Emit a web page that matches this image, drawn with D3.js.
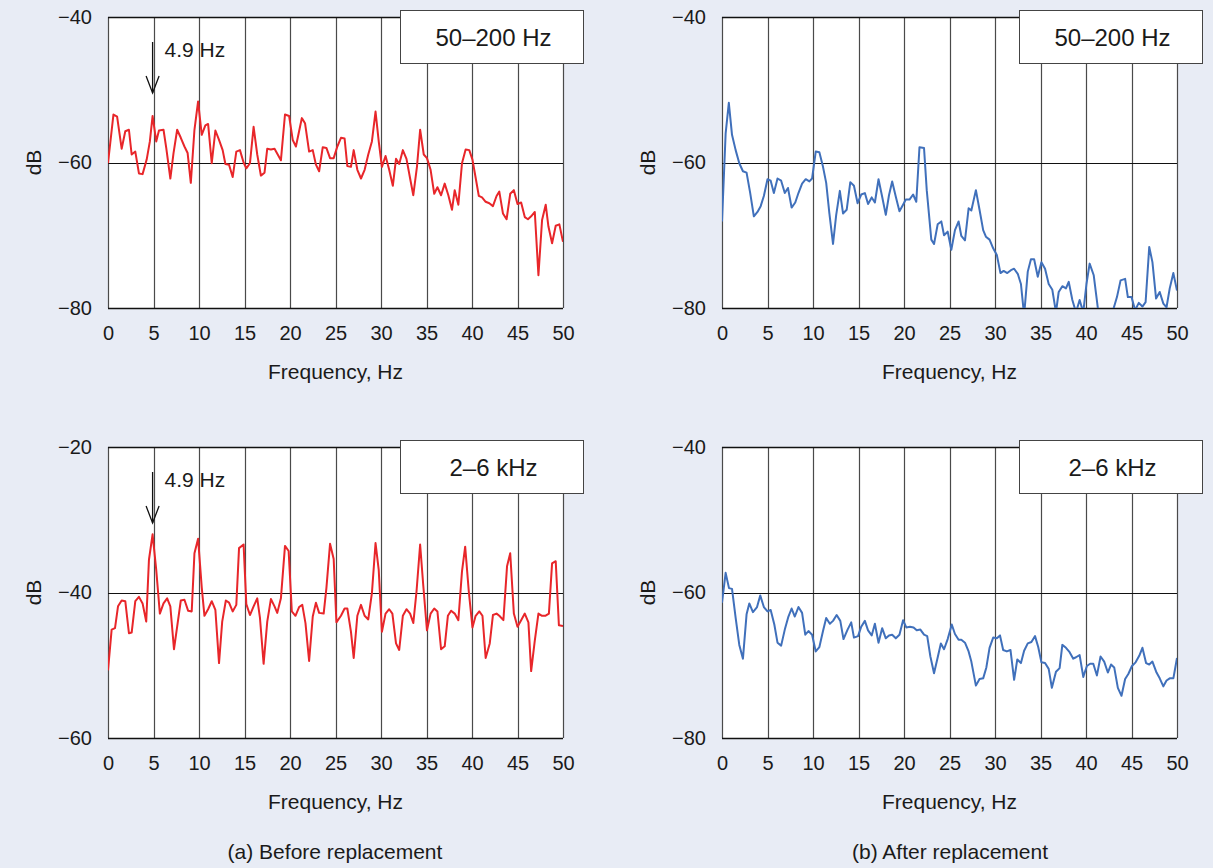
<!DOCTYPE html>
<html><head><meta charset="utf-8">
<script src="https://cdn.jsdelivr.net/npm/d3@7"></script>
<style>
body{margin:0;background:#e8ecf5;}
svg{display:block;font-family:"Liberation Sans",Arial,Helvetica,sans-serif;}
</style></head><body><svg id="c" width="1213" height="868"></svg>
<script>
// ---------- data ----------
const xTicks = [0,5,10,15,20,25,30,35,40,45,50];
const yTicksTopBefore = [-40,-60,-80];
const yTicksTopAfter = [-40,-60,-80];
const yTicksBotBefore = [-20,-40,-60];
const yTicksBotAfter = [-40,-60,-80];
const bandLabels = ["50–200 Hz","2–6 kHz"];
const captions = ["(a) Before replacement","(b) After replacement"];
const peakLabel = "4.9 Hz";
const peakFreq = 4.9;
const xTitle = "Frequency, Hz";
const yTitle = "dB";

const freqTopBefore = [0,0.6,1.0,1.5,1.9,2.3,2.6,3.0,3.4,3.8,
4.25,4.6,4.9,5.3,5.6,6.1,6.4,6.85,7.2,7.6,
8.0,8.4,8.75,9.1,9.5,9.9,10.3,10.7,11.0,11.4,
11.8,12.2,12.6,12.9,13.3,13.7,14.1,14.5,14.9,15.2,
15.6,16.0,16.4,16.8,17.2,17.5,17.9,18.3,18.65,19.0,
19.45,19.9,20.3,20.65,21.0,21.3,21.65,22.1,22.5,22.85,
23.2,23.6,24.0,24.4,24.8,25.2,25.6,26.0,26.3,26.7,
27.0,27.4,27.8,28.2,28.6,29.0,29.4,29.75,30.1,30.5,
30.9,31.3,31.65,32.0,32.4,32.8,33.2,33.55,33.95,34.3,
34.7,35.05,35.45,35.85,36.2,36.6,37.0,37.4,37.8,38.1,
38.5,38.9,39.3,39.7,40.05,40.4,40.75,41.1,41.5,41.9,
42.3,42.7,43.0,43.4,43.8,44.2,44.6,45.0,45.4,45.8,
46.15,46.5,46.9,47.3,47.7,48.1,48.4,48.8,49.2,49.6,
50.0];
const dbTopBefore = [-60.1,-53.4,-53.7,-58.1,-55.7,-55.5,-58.9,-58.5,-61.5,-61.6,
-59.6,-57.1,-53.6,-57.1,-55.6,-55.5,-58.0,-62.2,-58.7,-55.5,
-56.6,-57.8,-58.7,-62.8,-55.5,-51.6,-56.2,-54.9,-54.7,-60.1,
-55.6,-56.9,-58.3,-60.2,-60.3,-62.0,-58.5,-58.3,-60.0,-60.8,
-60.1,-55.1,-58.9,-61.8,-61.4,-58.1,-58.2,-58.1,-58.9,-59.7,
-53.4,-53.6,-56.9,-57.8,-55.7,-53.9,-54.6,-58.5,-58.3,-60.3,
-61.2,-57.9,-58.0,-59.4,-59.4,-57.8,-56.6,-56.7,-60.5,-60.6,
-58.3,-61.0,-62.2,-61.0,-58.9,-57.1,-53.0,-57.1,-60.6,-59.1,
-61.0,-63.2,-59.5,-60.2,-58.3,-59.5,-62.2,-64.5,-60.6,-55.5,
-58.9,-59.4,-61.0,-64.3,-63.4,-64.5,-62.9,-64.5,-66.5,-63.8,
-65.8,-60.1,-58.2,-58.3,-59.6,-62.1,-64.6,-64.8,-65.4,-65.6,
-66.0,-64.6,-64.0,-67.0,-67.8,-64.3,-63.8,-65.7,-65.5,-67.5,
-67.8,-67.4,-66.8,-75.5,-67.9,-65.8,-68.8,-71.1,-68.7,-68.5,
-70.9];

const freqTopAfter = [0.0,0.4,0.75,1.1,1.5,1.9,2.3,2.7,3.1,3.5,
3.9,4.25,4.6,5.0,5.35,5.7,6.1,6.5,6.9,7.25,
7.65,8.05,8.4,8.8,9.2,9.6,9.9,10.3,10.7,11.1,
11.45,11.8,12.2,12.55,12.95,13.3,13.7,14.1,14.5,14.9,
15.3,15.7,16.05,16.45,16.8,17.2,17.6,18.0,18.35,18.7,
19.1,19.5,19.85,20.2,20.6,21.0,21.35,21.7,22.2,22.5,
23.0,23.3,23.7,24.1,24.4,24.8,25.2,25.6,26.0,26.3,
26.7,27.1,27.4,27.9,28.3,28.7,29.0,29.4,29.8,30.2,
30.6,30.95,31.35,31.75,32.1,32.5,32.85,33.2,33.6,33.95,
34.3,34.7,35.1,35.5,35.9,36.3,36.7,37.0,37.4,37.8,
38.1,38.5,38.9,39.3,39.7,40.05,40.4,40.85,41.35,41.8,
42.2,42.6,43.0,43.4,43.8,44.3,44.6,45.0,45.4,45.8,
46.2,46.55,46.95,47.3,47.7,48.1,48.5,48.85,49.2,49.6,
50.0];
const dbTopAfter = [-68.1,-56.0,-51.8,-56.2,-58.3,-60.1,-61.2,-61.4,-64.2,-67.4,
-66.8,-66.0,-64.6,-62.3,-62.5,-64.2,-62.2,-62.5,-64.2,-63.5,
-66.2,-65.5,-64.2,-62.9,-62.3,-62.6,-62.2,-58.5,-58.6,-60.6,
-62.8,-67.0,-71.2,-67.2,-63.9,-67.0,-66.5,-62.7,-63.2,-65.6,
-64.4,-64.2,-65.7,-64.8,-65.5,-62.3,-64.7,-67.2,-64.5,-62.6,
-64.7,-66.7,-65.9,-65.1,-65.1,-64.4,-65.4,-57.9,-58.0,-63.8,
-70.6,-71.2,-68.5,-68.1,-70.0,-69.5,-72.0,-69.3,-68.1,-70.1,
-70.7,-66.3,-66.6,-63.8,-66.5,-69.3,-70.2,-70.6,-71.8,-72.7,
-75.2,-74.9,-75.2,-74.8,-74.6,-75.3,-76.7,-81.0,-75.0,-73.3,
-73.3,-75.7,-73.7,-74.6,-76.7,-77.5,-80.6,-77.8,-77.0,-77.3,
-76.4,-78.9,-80.6,-78.9,-80.6,-76.7,-73.9,-75.5,-80.5,-82.5,
-82.5,-81.5,-80.2,-78.5,-76.2,-76.0,-78.5,-78.5,-80.3,-79.3,
-79.8,-79.2,-71.6,-73.7,-78.7,-77.8,-79.4,-79.9,-77.3,-75.2,
-77.6];

const freqBotBefore = [0,0.4,0.77,1.1,1.5,1.9,2.3,2.6,3.0,3.4,
3.8,4.2,4.5,4.9,5.3,5.7,6.1,6.5,6.85,7.25,
7.6,8.0,8.4,8.8,9.2,9.5,9.9,10.3,10.6,11.0,
11.4,11.8,12.2,12.55,12.95,13.3,13.7,14.1,14.4,14.9,
15.2,15.6,16.0,16.4,16.7,17.1,17.5,17.9,18.3,18.6,
19.0,19.45,19.85,20.2,20.6,21.0,21.35,21.7,22.1,22.5,
22.85,23.2,23.7,24.0,24.4,24.8,25.1,25.6,26.0,26.3,
26.7,27.0,27.4,27.8,28.2,28.6,29.0,29.4,29.75,30.1,
30.5,30.9,31.25,31.65,32.0,32.4,32.8,33.2,33.55,33.9,
34.3,34.65,35.05,35.45,35.85,36.2,36.6,37.0,37.35,37.7,
38.1,38.5,38.9,39.25,39.65,40.05,40.4,40.8,41.15,41.5,
41.95,42.3,42.7,43.0,43.45,43.85,44.2,44.6,45.0,45.4,
45.8,46.2,46.5,46.9,47.3,47.7,48.05,48.45,48.8,49.2,
49.55,50.0];
const dbBotBefore = [-50.7,-45.1,-44.9,-41.9,-41.1,-41.2,-45.6,-45.5,-41.2,-40.6,
-41.5,-44.0,-35.5,-32.0,-36.9,-42.9,-41.5,-40.8,-41.9,-47.8,
-44.7,-41.1,-41.0,-42.5,-42.6,-34.6,-32.6,-39.3,-43.2,-42.3,
-41.2,-42.4,-49.7,-44.0,-41.1,-41.4,-42.6,-41.7,-33.9,-33.4,
-41.6,-43.1,-41.9,-40.8,-43.5,-49.8,-44.0,-40.9,-41.9,-42.8,
-40.8,-33.6,-34.3,-42.6,-43.2,-42.0,-41.7,-44.2,-49.4,-43.3,
-41.4,-42.8,-42.9,-39.4,-33.3,-35.4,-44.1,-43.2,-42.2,-42.2,
-45.4,-49.0,-43.2,-41.7,-43.2,-43.7,-40.1,-33.2,-36.9,-45.4,
-42.9,-42.3,-42.9,-47.0,-47.9,-43.2,-42.3,-42.9,-44.2,-39.9,
-33.4,-39.1,-45.2,-42.9,-42.2,-42.6,-47.8,-47.4,-43.2,-42.5,
-42.9,-43.8,-37.1,-33.7,-39.9,-44.8,-43.2,-42.6,-43.2,-49.0,
-47.0,-43.1,-42.9,-43.2,-43.8,-36.4,-34.6,-42.9,-44.7,-43.8,
-42.9,-44.1,-50.8,-46.6,-42.9,-43.2,-43.2,-42.9,-36.0,-35.7,
-44.5,-44.6];

const freqBotAfter = [0,0.4,0.77,1.1,1.5,1.9,2.3,2.7,3.0,3.4,
3.85,4.2,4.6,5.0,5.35,5.75,6.1,6.5,6.9,7.3,
7.65,8.0,8.4,8.8,9.15,9.5,9.9,10.3,10.7,11.1,
11.45,11.85,12.2,12.6,13.0,13.35,13.8,14.2,14.5,14.95,
15.3,15.7,16.05,16.45,16.8,17.2,17.6,18.0,18.35,18.7,
19.1,19.5,19.9,20.25,20.65,21.05,21.4,21.8,22.2,22.55,
22.9,23.3,23.65,24.05,24.4,24.8,25.25,25.6,26.0,26.3,
26.7,27.1,27.4,27.9,28.3,28.7,29.05,29.4,29.8,30.2,
30.55,30.9,31.3,31.7,32.1,32.45,32.85,33.2,33.6,34.0,
34.4,34.75,35.1,35.5,35.9,36.25,36.7,37.1,37.4,37.8,
38.2,38.6,38.9,39.3,39.7,40.1,40.45,40.8,41.2,41.6,
42.0,42.4,42.75,43.1,43.5,43.9,44.3,44.65,45.05,45.45,
45.85,46.2,46.6,46.95,47.3,47.75,48.1,48.5,48.85,49.2,
49.6,50.0];
const dbBotAfter = [-61.4,-57.3,-59.4,-59.5,-63.5,-67.2,-69.1,-63.0,-61.5,-62.7,
-62.0,-60.4,-62.0,-62.6,-62.4,-64.4,-66.9,-67.3,-65.1,-63.3,
-62.2,-63.3,-62.0,-62.8,-65.8,-65.3,-65.8,-68.1,-67.5,-65.3,
-63.5,-64.3,-63.9,-63.1,-63.9,-66.4,-65.1,-64.1,-66.2,-66.0,
-64.7,-63.9,-65.2,-65.9,-64.3,-66.9,-64.9,-66.3,-65.9,-65.8,
-66.3,-65.8,-63.8,-64.8,-64.7,-64.8,-65.2,-65.1,-65.8,-66.0,
-68.8,-71.1,-69.2,-67.0,-67.8,-66.4,-64.4,-65.7,-66.5,-66.5,
-66.9,-68.1,-69.5,-72.8,-71.9,-71.8,-70.3,-67.6,-66.2,-66.3,
-65.9,-67.9,-68.1,-67.9,-72.0,-69.2,-69.7,-68.0,-67.0,-66.8,
-66.0,-67.5,-69.6,-69.7,-70.5,-73.1,-70.9,-70.4,-67.2,-67.6,
-68.2,-69.1,-68.9,-68.6,-71.6,-70.1,-69.8,-69.8,-71.4,-68.8,
-69.5,-71.0,-69.9,-70.3,-73.1,-74.2,-71.9,-71.2,-70.1,-69.6,
-68.7,-67.6,-69.7,-69.9,-69.5,-71.0,-71.8,-72.9,-72.1,-71.8,
-71.8,-69.0];

// ---------- layout / style ----------
const RED = "#e8262a", BLUE = "#4070bb";
const PW = 455, PH = 291;
const panels = [
  {left:108, top:17,  freq:freqTopBefore, db:dbTopBefore, yTicks:yTicksTopBefore, color:RED,  band:bandLabels[0], marker:true,  boxX:292},
  {left:722, top:17,  freq:freqTopAfter,  db:dbTopAfter,  yTicks:yTicksTopAfter,  color:BLUE, band:bandLabels[0], marker:false, boxX:297},
  {left:108, top:447, freq:freqBotBefore, db:dbBotBefore, yTicks:yTicksBotBefore, color:RED,  band:bandLabels[1], marker:true,  boxX:292},
  {left:722, top:447, freq:freqBotAfter,  db:dbBotAfter,  yTicks:yTicksBotAfter,  color:BLUE, band:bandLabels[1], marker:false, boxX:297}
];

const svg = d3.select("#c");
const FS_TICK = 20, FS = 21, FS_BOX = 24;
const TXT = "#1a1a1a";

panels.forEach((p, i) => {
  const g = svg.append("g").attr("transform", `translate(${p.left},${p.top})`);
  const x = d3.scaleLinear().domain([0, 50]).range([0, PW]);
  const y = d3.scaleLinear().domain([p.yTicks[2], p.yTicks[0]]).range([PH, 0]);

  g.append("rect").attr("width", PW).attr("height", PH).attr("fill", "#fff");

  // vertical grid lines
  g.selectAll("line.vg").data(xTicks).join("line").attr("class","vg")
    .attr("x1", d => Math.round(x(d)) + 0.5).attr("x2", d => Math.round(x(d)) + 0.5)
    .attr("y1", 0).attr("y2", PH)
    .attr("stroke", "#4a4a4a").attr("stroke-width", 1.2);

  // horizontal middle line
  g.append("line").attr("x1", 0).attr("x2", PW)
    .attr("y1", Math.round(y(p.yTicks[1])) + 0.5).attr("y2", Math.round(y(p.yTicks[1])) + 0.5)
    .attr("stroke", "#111").attr("stroke-width", 1.1);
  // top / bottom frame
  [p.yTicks[0], p.yTicks[2]].forEach(v => {
    g.append("line").attr("x1", 0).attr("x2", PW)
      .attr("y1", Math.round(y(v)) + 0.5).attr("y2", Math.round(y(v)) + 0.5)
      .attr("stroke", "#111").attr("stroke-width", 1.3);
  });

  // clip
  const cid = "clip" + i;
  g.append("clipPath").attr("id", cid).append("rect").attr("width", PW).attr("height", PH);

  const data = p.freq.map((f, k) => [f, p.db[k]]);
  g.append("path").datum(data)
    .attr("clip-path", `url(#${cid})`)
    .attr("fill", "none").attr("stroke", p.color).attr("stroke-width", 2)
    .attr("stroke-linejoin", "round")
    .attr("d", d3.line().x(d => x(d[0])).y(d => y(d[1])));

  // axes
  const ya = g.append("g").call(d3.axisLeft(y).tickValues(p.yTicks).tickSize(0).tickPadding(16));
  ya.select(".domain").remove();
  ya.selectAll("text").attr("font-size", FS_TICK).attr("fill", TXT)
    .attr("font-family", '"Liberation Sans",Arial,sans-serif');

  const xa = g.append("g").attr("transform", `translate(0,${PH})`)
    .call(d3.axisBottom(x).tickValues(xTicks).tickSize(0).tickPadding(18));
  xa.select(".domain").remove();
  xa.selectAll("text").attr("font-size", FS_TICK).attr("fill", TXT)
    .attr("font-family", '"Liberation Sans",Arial,sans-serif');

  // axis titles
  g.append("text").attr("x", PW / 2).attr("y", PH + 71).attr("text-anchor", "middle")
    .attr("font-size", FS).attr("fill", TXT).text(xTitle);
  g.append("text").attr("transform", `translate(-67,${PH / 2}) rotate(-90)`)
    .attr("text-anchor", "middle").attr("font-size", FS).attr("fill", TXT).text(yTitle);

  // band label box
  g.append("rect").attr("x", p.boxX + 0.5).attr("y", -6.5).attr("width", 183).attr("height", 53)
    .attr("fill", "#fff").attr("stroke", "#444").attr("stroke-width", 1);
  g.append("text").attr("x", p.boxX + 183 / 2 + 2).attr("y", -6 + 53 / 2 + 8.5)
    .attr("text-anchor", "middle").attr("font-size", FS_BOX).attr("fill", TXT).text(p.band);

  // peak marker
  if (p.marker) {
    const px = x(peakFreq);
    g.append("line").attr("x1", px).attr("x2", px).attr("y1", 25).attr("y2", 76)
      .attr("stroke", "#111").attr("stroke-width", 1.3);
    g.append("path").attr("d", `M${px - 6.5},59 L${px},76 L${px + 6.5},59`)
      .attr("fill", "none").attr("stroke", "#111").attr("stroke-width", 1.3);
    g.append("text").attr("x", px + 12).attr("y", 40).attr("font-size", FS)
      .attr("fill", TXT).text(peakLabel);
  }
});

// captions
svg.append("text").attr("x", 335).attr("y", 859).attr("text-anchor", "middle")
  .attr("font-size", FS).attr("fill", TXT).text(captions[0]);
svg.append("text").attr("x", 950).attr("y", 859).attr("text-anchor", "middle")
  .attr("font-size", FS).attr("fill", TXT).text(captions[1]);
</script></body></html>
